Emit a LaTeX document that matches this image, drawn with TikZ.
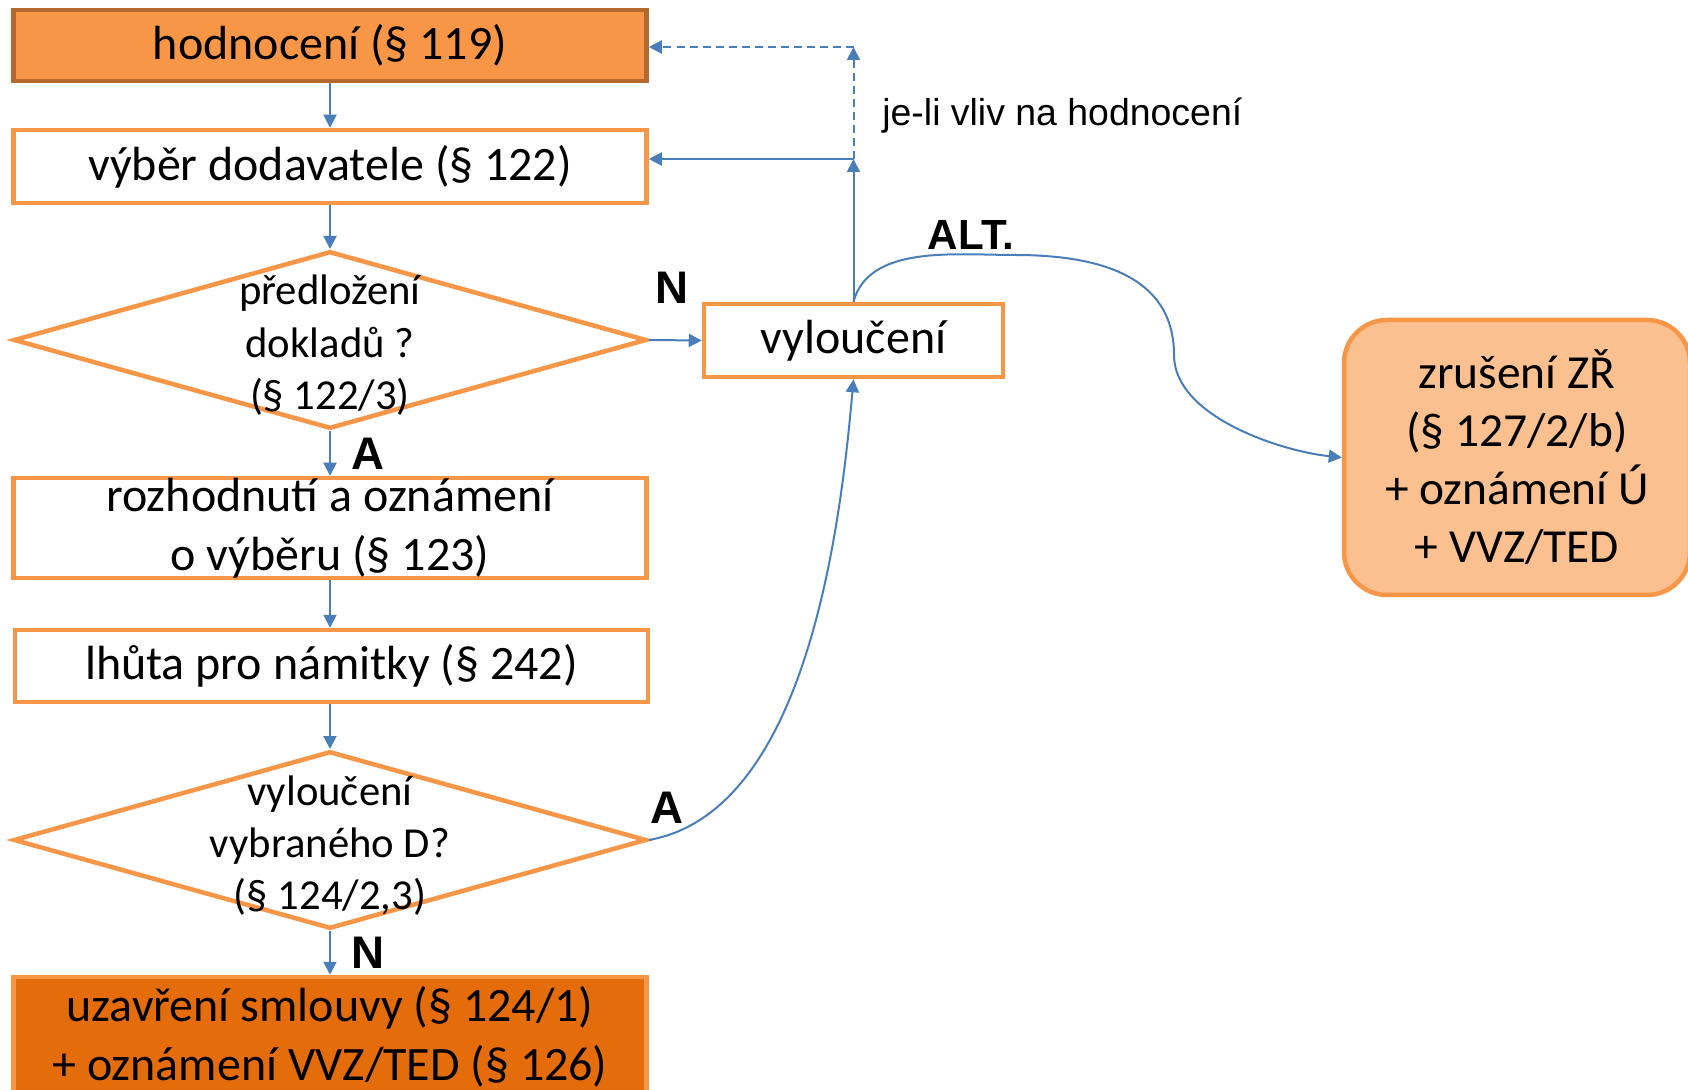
\documentclass[tikz,border=0pt]{standalone}
\usepackage{fontspec}
\setmainfont{Carlito}
\newfontfamily\arialfont{Liberation Sans}
\usetikzlibrary{shapes.geometric,arrows.meta}
\definecolor{boxline}{HTML}{F79646}
\definecolor{topline}{HTML}{B46A2E}
\definecolor{darkfill}{HTML}{E46C0A}
\definecolor{lightfill}{HTML}{FAC090}
\definecolor{flow}{HTML}{4A7EBB}
\begin{document}
\begin{tikzpicture}[
	box/.style={draw=boxline,line width=0.09cm,fill=white,minimum width=12.66cm,inner sep=0,align=center,font=\fontsize{27.3}{33.5}\selectfont},
	decision/.style={draw=boxline,line width=0.09cm,fill=white,shape=diamond,minimum width=12.66cm,minimum height=3.55cm,inner sep=0},
	dtext/.style={align=center,font=\fontsize{24.3}{29.8}\selectfont},
	flowarrow/.style={draw=flow,line width=0.04cm,-{Triangle[length=0.26cm,width=0.26cm]}},
	yesno/.style={font=\arialfont\bfseries\fontsize{26}{26}\selectfont}]
	\useasboundingbox (0,0) rectangle (33.76,-21.8);
	\path (6.6,-0.91)   node [box,fill=boxline,draw=topline,minimum height=1.42cm] (hod) {hodnocení (§ 119)};
	\path (6.6,-3.33)   node [box,minimum height=1.46cm] (vyber) {výběr dodavatele (§ 122)};
	\path (6.6,-6.8)    node [decision] (d1) {};
	\path (6.6,-6.91)   node [dtext] (d1t) {předložení\\dokladů ?\\(§ 122/3)};
	\path (6.6,-10.56)  node [box,minimum height=2.0cm] (rozh) {rozhodnutí a oznámení\\o výběru (§ 123)};
	\path (6.63,-13.32) node [box,minimum height=1.44cm] (lhuta) {lhůta pro námitky (§ 242)};
	\path (6.6,-16.8)   node [decision] (d2) {};
	\path (6.6,-16.91)  node [dtext] (d2t) {vyloučení\\vybraného D?\\(§ 124/2,3)};
	\path (6.6,-20.74)  node [box,fill=darkfill,minimum height=2.4cm] (uzav) {uzavření smlouvy (§ 124/1)\\+ oznámení VVZ/TED (§ 126)};
	\path (17.07,-6.81) node [box,minimum width=5.98cm,minimum height=1.46cm] (vyl) {vyloučení};
	\path (30.34,-9.15) node [box,fill=lightfill,minimum width=6.92cm,minimum height=5.5cm,rounded corners=0.86cm,font=\fontsize{27}{33}\selectfont] (zr) {zrušení ZŘ\\(§ 127/2/b)\\+ oznámení Ú\\+ VVZ/TED};
	\coordinate (split)   at (17.07,-3.18);
	\coordinate (loop)    at (17.07,-0.94);
	\coordinate (altpeak) at (20.3,-5.1);
	\coordinate (altmid)  at (23.48,-7.1);
	% main flow
	\draw [flowarrow] (hod)   -- (vyber);
	\draw [flowarrow] (vyber) -- (d1);
	\draw [flowarrow] (d1)    -- (rozh)  node [midway,right,yesno,xshift=0.3cm] {A};
	\draw [flowarrow] (rozh.south) -- (rozh.south |- lhuta.north);
	\draw [flowarrow] (d2.north |- lhuta.south) -- (d2.north);
	\draw [flowarrow] (d2)    -- (uzav)  node [midway,right,yesno,xshift=0.3cm] {N};
	% exclusion
	\draw [flowarrow] (d1.east) -- (vyl.west) node [midway,above,yesno,yshift=0.6cm,xshift=-0.06cm] {N};
	\draw [flowarrow] (d2.east) to [out=10,in=-95,looseness=0.8] node [at start,above right,yesno,xshift=-0.1cm,yshift=0.2cm] {A} (vyl.south);
	\draw [flowarrow] (vyl.north) -- (split);
	\draw [flowarrow] (split) -- (vyber.east |- split);
	\draw [flowarrow,dash pattern=on 0.16cm off 0.1cm] (split) -- (loop) node [midway,right,font=\arialfont\fontsize{21.3}{21.3}\selectfont,xshift=0.44cm,yshift=-0.25cm] {je-li vliv na hodnocení};
	\draw [flowarrow,dash pattern=on 0.16cm off 0.1cm] (loop) -- (hod.east |- loop);
	\draw [flowarrow] (vyl.north) to [out=75,in=180,looseness=0.9] node [pos=0.75,above,yesno,font=\arialfont\bfseries\fontsize{24}{24}\selectfont,yshift=-0.05cm,xshift=0.08cm] {ALT.} (altpeak)
		to [out=0,in=90,looseness=1.1] (altmid) to [out=-90,in=174,looseness=0.8] (zr.west);
\end{tikzpicture}
\end{document}
